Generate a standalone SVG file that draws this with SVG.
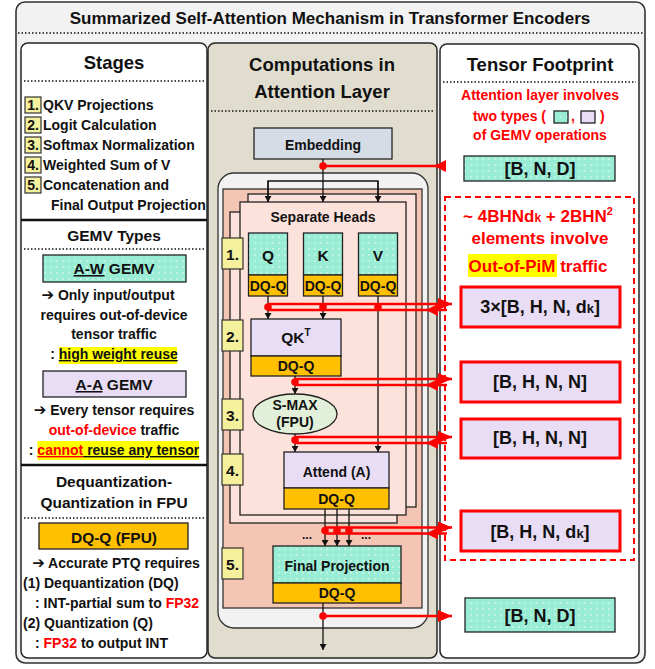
<svg xmlns="http://www.w3.org/2000/svg" width="655" height="669" viewBox="0 0 655 669">
<defs>
<style>
text{font-family:"Liberation Sans",Arial,"DejaVu Sans",sans-serif;font-weight:bold;fill:#111}
.c{text-anchor:middle}
.ttl{font-size:17px}
.h{font-size:18.5px}
.s14{font-size:14px}
.s15{font-size:15.5px}
.s17{font-size:17px}
.s18{font-size:18px}
.ar{font-family:"DejaVu Sans",sans-serif;font-size:15px}
.r{fill:#ff0000}
.panel{stroke:#262626;stroke-width:1.5}
.dot{stroke:#111;stroke-width:1.5;stroke-dasharray:1.5 2;fill:none}
.bx{stroke:#222;stroke-width:1.3}
.mint{fill:url(#dots)}
.lav{fill:#e8ddf4}
.org{fill:#ffc000}
.step{fill:#f4f09c;stroke:#333;stroke-width:1.2}
.frame{fill:#fde2db;stroke:#222;stroke-width:1.3}
.rbox{fill:#e8ddf4;stroke:#ff0000;stroke-width:3}
.bl{stroke:#111;stroke-width:1.3;fill:none}
.rl{stroke:#ff0000;stroke-width:2.3;fill:none}
.rd{fill:#ff0000}
.hl{fill:#ffff00}
</style>
<pattern id="dots" width="6" height="6" patternUnits="userSpaceOnUse"><rect width="6" height="6" fill="#99edd5"/><circle cx="3" cy="3" r="0.7" fill="#ffffff"/></pattern>
<marker id="ah" viewBox="0 0 6 7" refX="6" refY="3.5" markerWidth="6" markerHeight="7" markerUnits="userSpaceOnUse" orient="auto"><path d="M0,0 L6,3.5 L0,7 z" fill="#111"/></marker>
<marker id="rar" viewBox="0 0 14 12" refX="14" refY="6" markerWidth="14" markerHeight="12" markerUnits="userSpaceOnUse" orient="auto"><path d="M0,0 L14,6 L0,12 z" fill="#ff0000"/></marker>
<marker id="ral" viewBox="0 0 12 12" refX="12" refY="6" markerWidth="12" markerHeight="12" markerUnits="userSpaceOnUse" orient="auto"><path d="M0,0 L12,6 L0,12 z" fill="#ff0000"/></marker>
</defs>

<g id="frame">
<rect x="16" y="2" width="629" height="661" rx="9" fill="#f2f2f2" stroke="#333" stroke-width="1.6"/>
<text x="330" y="24" class="c ttl">Summarized Self-Attention Mechanism in Transformer Encoders</text>
<line x1="18" y1="33" x2="643" y2="33" class="dot"/>
</g>

<g id="left-panel">
<rect x="21" y="43" width="186" height="615" rx="7" fill="#fff" class="panel"/>
<text x="114" y="69" class="c h">Stages</text>
<line x1="24" y1="81" x2="205" y2="81" class="dot"/>
<rect x="25" y="97" width="16" height="16" class="step"/><text x="33" y="110" class="c s14">1.</text><text x="43" y="110" class="s14">QKV Projections</text>
<rect x="25" y="117" width="16" height="16" class="step"/><text x="33" y="130" class="c s14">2.</text><text x="43" y="130" class="s14">Logit Calculation</text>
<rect x="25" y="137" width="16" height="16" class="step"/><text x="33" y="150" class="c s14">3.</text><text x="43" y="150" class="s14">Softmax Normalization</text>
<rect x="25" y="157" width="16" height="16" class="step"/><text x="33" y="170" class="c s14">4.</text><text x="43" y="170" class="s14">Weighted Sum of V</text>
<rect x="25" y="177" width="16" height="16" class="step"/><text x="33" y="190" class="c s14">5.</text><text x="43" y="190" class="s14">Concatenation and</text>
<text x="51" y="210" class="s14">Final Output Projection</text>
<line x1="21" y1="220" x2="207" y2="220" stroke="#111" stroke-width="2.5"/>

<text x="114" y="241" class="c s15">GEMV Types</text>
<line x1="24" y1="249" x2="205" y2="249" class="dot"/>
<rect x="43" y="255" width="143" height="27" class="mint bx"/>
<text x="114" y="274" class="c s15"><tspan text-decoration="underline">A-W</tspan> GEMV</text>
<text x="108" y="300" class="c s14"><tspan class="ar">➔</tspan> Only input/output</text>
<text x="114" y="320" class="c s14">requires out-of-device</text>
<text x="114" y="339" class="c s14">tensor traffic</text>
<rect x="59" y="347" width="118" height="17" class="hl"/>
<text x="114" y="359" class="c s14">: <tspan text-decoration="underline">high weight reuse</tspan></text>
<rect x="43" y="371" width="143" height="26" class="lav bx"/>
<text x="114" y="390" class="c s15"><tspan text-decoration="underline">A-A</tspan> GEMV</text>
<text x="114" y="415" class="c s14"><tspan class="ar">➔</tspan> Every tensor requires</text>
<text x="114" y="435" class="c s14"><tspan class="r">out-of-device</tspan> traffic</text>
<rect x="37.5" y="441" width="161.5" height="19" class="hl"/>
<text x="114" y="455" class="c s14">: <tspan class="r" text-decoration="underline">cannot</tspan><tspan text-decoration="underline"> reuse any tensor</tspan></text>
<line x1="21" y1="465" x2="207" y2="465" stroke="#111" stroke-width="2.5"/>

<text x="114" y="487" class="c s15">Dequantization-</text>
<text x="114" y="508" class="c s15">Quantization in FPU</text>
<line x1="24" y1="518" x2="205" y2="518" class="dot"/>
<rect x="39" y="523" width="149" height="26" class="org bx"/>
<text x="114" y="543" class="c s15">DQ-Q (FPU)</text>
<text x="116" y="568" class="c s14"><tspan class="ar">➔</tspan> Accurate PTQ requires</text>
<text x="23" y="588" class="s14">(1) Dequantization (DQ)</text>
<text x="35" y="608" class="s14">: INT-partial sum to <tspan class="r">FP32</tspan></text>
<text x="23" y="628" class="s14">(2) Quantization (Q)</text>
<text x="35" y="648" class="s14">: <tspan class="r">FP32</tspan> to output INT</text>
</g>

<g id="middle-panel">
<rect x="208" y="43" width="229" height="615" rx="7" fill="#e0ddce" class="panel"/>
<text x="322" y="71" class="c h">Computations in</text>
<text x="322" y="98" class="c h">Attention Layer</text>
<line x1="211" y1="111" x2="434" y2="111" class="dot"/>
</g>

<g id="embedding">
<rect x="254" y="128" width="138" height="31" fill="#d6dce5" class="bx"/>
<text x="323" y="150" class="c s14">Embedding</text>
</g>

<g id="encoder-block">
<rect x="218" y="173" width="210" height="455" rx="16" fill="#f2f2f2" stroke="#333" stroke-width="1.3"/>
<rect x="223" y="189" width="199" height="419" fill="#f5c5b3" stroke="#333" stroke-width="1.3"/>
</g>

<g id="heads">
<rect x="248" y="194" width="168" height="313" class="frame"/>
<rect x="230" y="212" width="167" height="311" class="frame"/>
<rect x="240" y="202" width="166" height="313" class="frame"/>
<text x="323" y="222" class="c s14">Separate Heads</text>
</g>

<g id="q-node">
<rect x="248.5" y="233" width="39" height="42" class="mint bx"/>
<rect x="248.5" y="275" width="39" height="21" class="org bx"/>
<text x="268" y="261" class="c s15">Q</text>
<text x="268" y="291" class="c s14">DQ-Q</text>
</g>
<g id="k-node">
<rect x="303.5" y="233" width="39" height="42" class="mint bx"/>
<rect x="303.5" y="275" width="39" height="21" class="org bx"/>
<text x="323" y="261" class="c s15">K</text>
<text x="323" y="291" class="c s14">DQ-Q</text>
</g>
<g id="v-node">
<rect x="358.5" y="233" width="39" height="42" class="mint bx"/>
<rect x="358.5" y="275" width="39" height="21" class="org bx"/>
<text x="378" y="261" class="c s15">V</text>
<text x="378" y="291" class="c s14">DQ-Q</text>
</g>

<g id="qkt-node">
<rect x="251" y="319" width="90" height="37" class="lav bx"/>
<rect x="251" y="356" width="90" height="20" class="org bx"/>
<text x="296" y="343" class="c s15">QK<tspan dy="-7" font-size="10">T</tspan></text>
<text x="296" y="371" class="c s14">DQ-Q</text>
</g>

<g id="smax-node">
<ellipse cx="295" cy="414" rx="42" ry="20" fill="#e2efd9" stroke="#222" stroke-width="1.3"/>
<text x="295" y="410" class="c s14">S-MAX</text>
<text x="295" y="427" class="c s14">(FPU)</text>
</g>

<g id="attend-node">
<rect x="284" y="452" width="105" height="36" class="lav bx"/>
<rect x="284" y="488" width="105" height="21" class="org bx"/>
<text x="336.5" y="477" class="c s14">Attend (A)</text>
<text x="336.5" y="504" class="c s14">DQ-Q</text>
</g>

<g id="final-node">
<rect x="273" y="546" width="128" height="37" class="mint bx"/>
<rect x="273" y="583" width="128" height="20" class="org bx"/>
<text x="337" y="571" class="c s14">Final Projection</text>
<text x="337" y="598" class="c s14">DQ-Q</text>
</g>

<g id="step-labels">
<rect x="222" y="238" width="21" height="31" class="step"/><text x="232.5" y="260" class="c s15">1.</text>
<rect x="222" y="320" width="21" height="31" class="step"/><text x="232.5" y="342" class="c s15">2.</text>
<rect x="222" y="399" width="21" height="31" class="step"/><text x="232.5" y="421" class="c s15">3.</text>
<rect x="222" y="454" width="21" height="31" class="step"/><text x="232.5" y="476" class="c s15">4.</text>
<rect x="222" y="548" width="21" height="31" class="step"/><text x="232.5" y="570" class="c s15">5.</text>
<text x="307" y="539" class="c" font-size="12">...</text>
<text x="366" y="539" class="c" font-size="12">...</text>
</g>

<g id="right-panel">
<rect x="440" y="44" width="199" height="614" rx="7" fill="#fff" class="panel"/>
<text x="540" y="71" class="c h">Tensor Footprint</text>
<line x1="443" y1="82" x2="636" y2="82" class="dot"/>
<text x="540" y="100" class="c s14 r">Attention layer involves</text>
<text x="546" y="121" class="s14 r" text-anchor="end">two types (</text>
<rect x="554" y="111" width="14" height="12" class="mint bx"/>
<text x="571" y="121" class="s14 r">,</text>
<rect x="581" y="111" width="14" height="12" class="lav bx"/>
<text x="600" y="121" class="s14 r">)</text>
<text x="540" y="140" class="c s14 r">of GEMV operations</text>
</g>

<g id="t-input">
<rect x="464" y="156" width="151" height="25" class="mint bx"/>
<text x="540" y="175" class="c s18">[B, N, D]</text>
</g>

<g id="pim-traffic">
<rect x="445" y="197" width="189" height="363" fill="none" stroke="#ff0000" stroke-width="2" stroke-dasharray="6 4"/>
<text x="538" y="222" class="c s17 r">~ 4BHNd<tspan font-size="12">k</tspan> + 2BHN<tspan dy="-7" font-size="11">2</tspan></text>
<text x="540" y="244" class="c s17 r">elements involve</text>
<rect x="468" y="254" width="89" height="23" class="hl"/>
<text x="538" y="272" class="c s17 r">Out-of-PiM traffic</text>
</g>

<g id="t-qkv">
<rect x="461" y="287" width="159" height="40" class="rbox"/>
<text x="540" y="313" class="c s18">3×[B, H, N, d<tspan font-size="13">k</tspan>]</text>
</g>
<g id="t-logit">
<rect x="461" y="362" width="159" height="40" class="rbox"/>
<text x="540" y="388" class="c s18">[B, H, N, N]</text>
</g>
<g id="t-smax">
<rect x="461" y="419" width="159" height="39" class="rbox"/>
<text x="540" y="444" class="c s18">[B, H, N, N]</text>
</g>
<g id="t-attend">
<rect x="461" y="511" width="159" height="40" class="rbox"/>
<text x="540" y="538" class="c s18">[B, H, N, d<tspan font-size="13">k</tspan>]</text>
</g>
<g id="t-output">
<rect x="465" y="598" width="150" height="34" class="mint bx"/>
<text x="540" y="622" class="c s18">[B, N, D]</text>
</g>

<g id="connectors">
<line x1="323" y1="159" x2="323" y2="202" class="bl" marker-end="url(#ah)"/>
<polyline points="268,202 268,181 378,181 378,202" class="bl"/>
<line x1="268" y1="181" x2="268" y2="202" class="bl" marker-end="url(#ah)"/>
<line x1="378" y1="181" x2="378" y2="202" class="bl" marker-end="url(#ah)"/>
<line x1="268" y1="296" x2="268" y2="319" class="bl" marker-end="url(#ah)"/>
<line x1="323" y1="296" x2="323" y2="319" class="bl" marker-end="url(#ah)"/>
<line x1="378" y1="296" x2="378" y2="452" class="bl" marker-end="url(#ah)"/>
<line x1="295" y1="376" x2="295" y2="394" class="bl" marker-end="url(#ah)"/>
<line x1="295" y1="434" x2="295" y2="452" class="bl" marker-end="url(#ah)"/>
<line x1="325" y1="509" x2="325" y2="546" class="bl" marker-end="url(#ah)"/>
<line x1="337" y1="509" x2="337" y2="546" class="bl" marker-end="url(#ah)"/>
<line x1="349" y1="509" x2="349" y2="546" class="bl" marker-end="url(#ah)"/>
<line x1="323" y1="603" x2="323" y2="650" class="bl" marker-end="url(#ah)"/>

<path d="M446,166 L434,166 L323,166" class="rl" marker-mid="url(#ral)"/>
<circle cx="323" cy="166" r="3.8" class="rd"/>

<path d="M268,304 L452,304" class="rl" marker-end="url(#rar)"/>
<path d="M447,310 L426,310 L268,310" class="rl" marker-mid="url(#ral)"/>
<circle cx="268" cy="307" r="3.8" class="rd"/>
<circle cx="323" cy="307" r="3.8" class="rd"/>
<circle cx="378" cy="307" r="3.8" class="rd"/>

<path d="M295,379 L452,379" class="rl" marker-end="url(#rar)"/>
<path d="M447,385 L426,385 L295,385" class="rl" marker-mid="url(#ral)"/>
<circle cx="295" cy="382" r="3.8" class="rd"/>

<path d="M295,437 L452,437" class="rl" marker-end="url(#rar)"/>
<path d="M447,443 L426,443 L295,443" class="rl" marker-mid="url(#ral)"/>
<circle cx="295" cy="440" r="3.8" class="rd"/>

<path d="M325,527.5 L452,527.5" class="rl" marker-end="url(#rar)"/>
<path d="M447,533.5 L426,533.5 L325,533.5" class="rl" marker-mid="url(#ral)"/>
<circle cx="325" cy="530.5" r="3.8" class="rd"/>
<circle cx="337" cy="530.5" r="3.8" class="rd"/>
<circle cx="349" cy="530.5" r="3.8" class="rd"/>

<path d="M323,616 L452,616" class="rl" marker-end="url(#rar)"/>
<circle cx="323" cy="616" r="3.8" class="rd"/>
</g>
</svg>
